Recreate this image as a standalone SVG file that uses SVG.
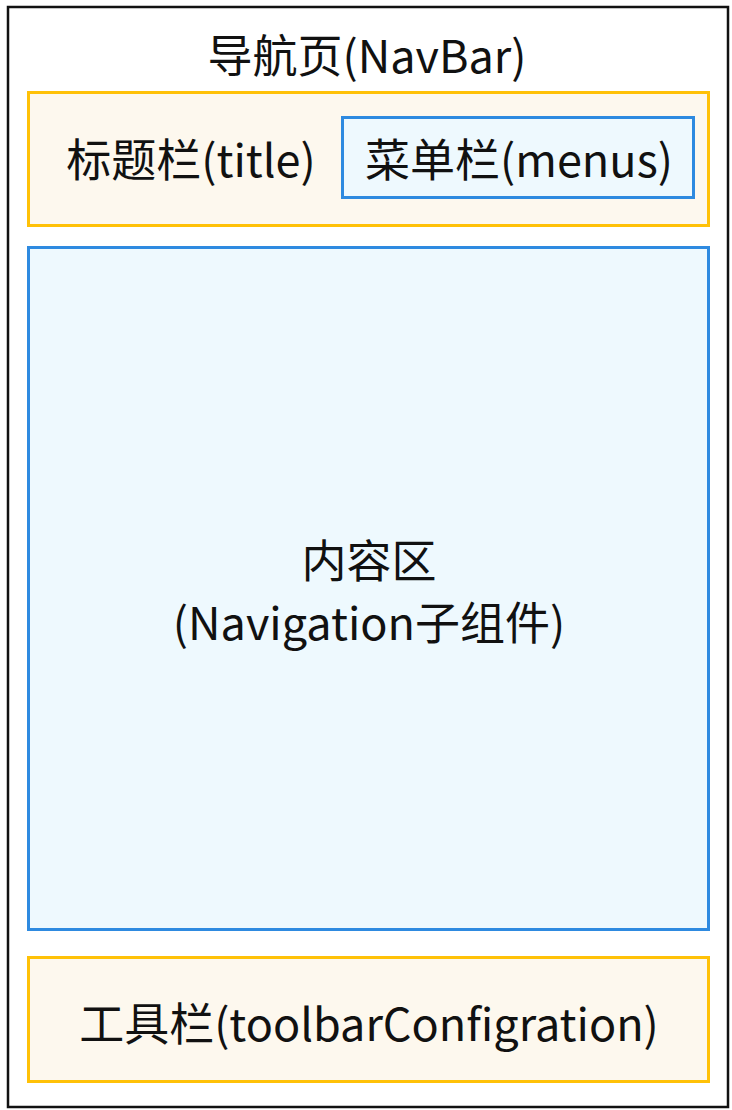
<svg xmlns="http://www.w3.org/2000/svg" width="732" height="1110" viewBox="0 0 732 1110">
<style>
.t{font-family:"Microsoft YaHei","Noto Sans CJK SC","Noto Sans",sans-serif;font-size:45px;fill:#111;text-anchor:middle}
.y{fill:#fdf8ee;stroke:#ffc107;stroke-width:3}
.b{fill:#eef9fe;stroke:#2e8ae0;stroke-width:3}
</style>
<rect width="732" height="1110" fill="#fff"/>
<g id="navbar">
<rect x="8" y="7" width="720" height="1100" fill="#fff" stroke="#111" stroke-width="2.5"/>
<text class="t" x="367" y="73">导航页(NavBar)</text>
</g>
<g id="titlebar">
<rect class="y" x="28.5" y="92.5" width="680" height="133"/>
<text class="t" x="191" y="177">标题栏(title)</text>
</g>
<g id="menus">
<rect class="b" x="342.5" y="117.5" width="351" height="80"/>
<text class="t" x="519" y="177">菜单栏(menus)</text>
</g>
<g id="content">
<rect class="b" x="28.5" y="247.5" width="680" height="682"/>
<text class="t" x="369" y="578">内容区</text>
<text class="t" x="369" y="640">(Navigation子组件)</text>
</g>
<g id="toolbar">
<rect class="y" x="28.5" y="957.5" width="680" height="124"/>
<text class="t" x="369" y="1041">工具栏(toolbarConfigration)</text>
</g>
<g id="connectors"></g>
</svg>
